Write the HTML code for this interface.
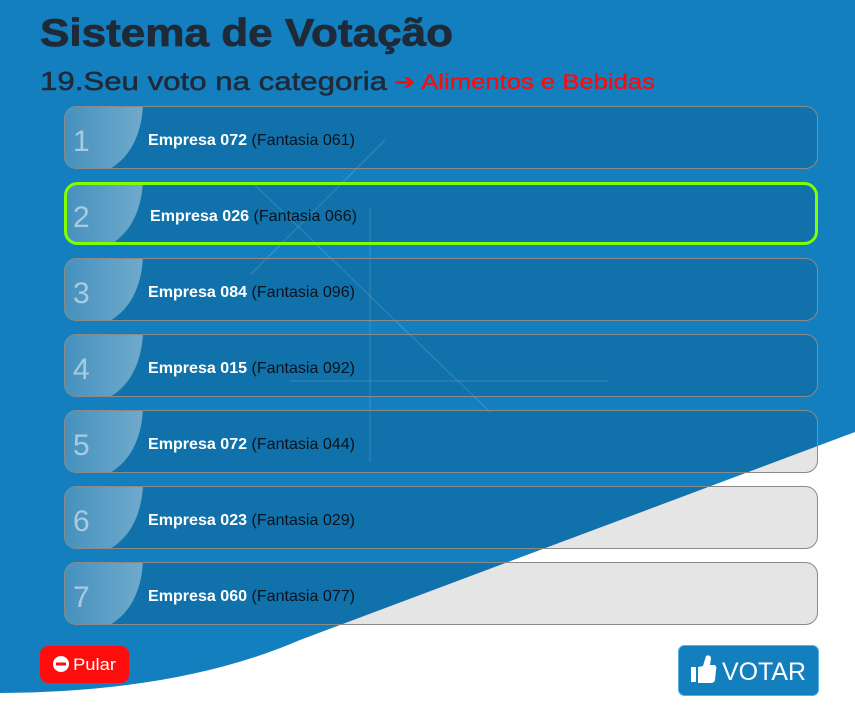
<!DOCTYPE html>
<html><head><meta charset="utf-8"><style>
html,body{margin:0;padding:0;background:#fff;}
svg{display:block;}
</style></head><body>
<svg width="855" height="726" viewBox="0 0 855 726" xmlns="http://www.w3.org/2000/svg">
<defs>
<linearGradient id="hl" x1="0" y1="0" x2="1" y2="0"><stop offset="0" stop-color="#fff" stop-opacity="0.22"/><stop offset="1" stop-color="#fff" stop-opacity="0.4"/></linearGradient>
</defs>
<path d="M0,0 H855 V432 L300,640 Q180,692 0,693 Z" fill="#137fbf"/>
<g stroke="#fff" stroke-opacity="0.18" stroke-width="1">
<line x1="385" y1="140" x2="250" y2="275"/>
<line x1="255" y1="185" x2="490" y2="412"/>
<line x1="370" y1="208" x2="370" y2="462"/>
<line x1="290" y1="381" x2="608" y2="381"/>
</g>
<text x="40" y="46" font-family="Liberation Sans, sans-serif" font-weight="bold" font-size="39" fill="#1e2a38" stroke="#1e2a38" stroke-width="0.8" textLength="413" lengthAdjust="spacingAndGlyphs">Sistema de Votação</text>
<text x="40" y="90" font-family="Liberation Sans, sans-serif" font-size="26" fill="#1e2a38" stroke="#1e2a38" stroke-width="0.5" textLength="347" lengthAdjust="spacingAndGlyphs">19.Seu voto na categoria</text>
<text x="394" y="89" font-family="Liberation Sans, sans-serif" font-size="21" fill="#ff0a0a" stroke="#ff0a0a" stroke-width="0.3" textLength="261" lengthAdjust="spacingAndGlyphs">➔ Alimentos e Bebidas</text>
<g id="rows"></g>
<g>
<rect x="40" y="646" width="89" height="37" rx="8" fill="#ff0d0d"/>
<circle cx="61" cy="664" r="8" fill="#fff"/>
<rect x="56" y="662.5" width="10" height="3" fill="#ff0d0d"/>
<text x="73" y="670" font-family="Liberation Sans, sans-serif" font-size="17" fill="#fff" textLength="43" lengthAdjust="spacingAndGlyphs">Pular</text>
</g>
<g>
<rect x="678.5" y="645.5" width="140" height="50" rx="6" fill="#137fbf" stroke="#5aaee0" stroke-width="1"/>
<path d="M691,667 H696 V682 H691 Z M698,667 L703,666 L706,656 Q710,654 711,658 L710,665 H715 Q717,667 716,670 L715,680 Q714,683 711,683 H698 Z" fill="#fff"/>
<text x="722" y="680" font-family="Liberation Sans, sans-serif" font-size="25" fill="#fff" textLength="84" lengthAdjust="spacingAndGlyphs">VOTAR</text>
</g>
</svg>
<script>
const ranks=[1,2,3,4,5,6,7];
const companies=["Empresa 072","Empresa 026","Empresa 084","Empresa 015","Empresa 072","Empresa 023","Empresa 060"];
const fantasias=["(Fantasia 061)","(Fantasia 066)","(Fantasia 096)","(Fantasia 092)","(Fantasia 044)","(Fantasia 029)","(Fantasia 077)"];
const selectedIndex=1;
const NS="http://www.w3.org/2000/svg";
const g=document.getElementById('rows');
function mk(t,a){const e=document.createElementNS(NS,t);for(const k in a)e.setAttribute(k,a[k]);return e;}
const defs=document.querySelector('defs');
ranks.forEach((r,i)=>{
  const top=106+i*76, h=63, x=64, w=754;
  const grp=mk('g',{});
  
  
  const cp=mk('clipPath',{id:'c'+i});
  cp.appendChild(mk('rect',{x:x,y:top,width:w,height:h,rx:13}));
  defs.appendChild(cp);
  grp.appendChild(mk('rect',{x:x,y:top,width:w,height:h,rx:13,fill:'rgba(0,0,0,0.1)'}));
  grp.appendChild(mk('path',{d:`M${x},${top} H143 Q140,${top+45} 110,${top+h} H${x} Z`,fill:'url(#hl)','clip-path':`url(#c${i})`}));
  const sel=i===selectedIndex;
  grp.appendChild(mk('rect',{x:sel?x+1.5:x+0.5,y:sel?top+1.5:top+0.5,width:sel?w-3:w-1,height:sel?h-3:h-1,rx:12,fill:'none',stroke:sel?'#7fff00':'#8a8a8a','stroke-width':sel?3:1}));
  const num=mk('text',{x:73,y:top+45,'font-family':'Liberation Sans, sans-serif','font-size':30,fill:'#a9cbe2'});
  num.textContent=r;
  
  
  grp.appendChild(num);
  const t=mk('text',{x:sel?150:148,y:top+39,'font-family':'Liberation Sans, sans-serif','font-size':16,textLength:207,lengthAdjust:'spacingAndGlyphs'});
  
  
  const b=mk('tspan',{'font-weight':'bold',fill:'#fff'});b.textContent=companies[i];
  const f=mk('tspan',{fill:'#08131d'});f.textContent=' '+fantasias[i];
  t.appendChild(b);t.appendChild(f);
  grp.appendChild(t);
  g.appendChild(grp);
});
</script>
</body></html>
